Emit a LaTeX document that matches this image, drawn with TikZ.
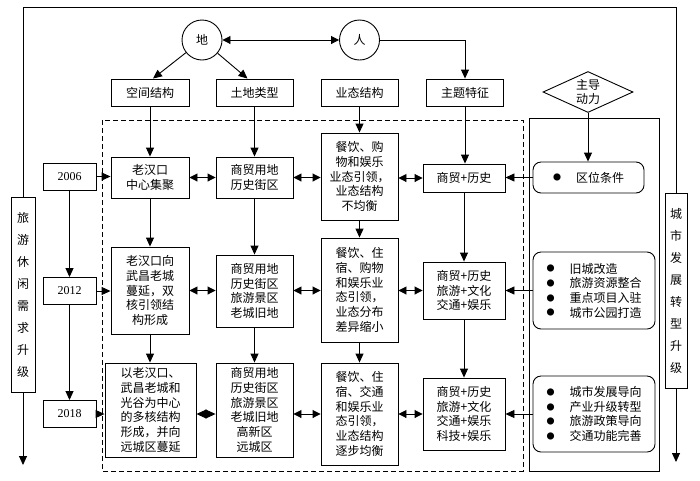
\documentclass[tikz,border=0pt]{standalone}
\usepackage{fontspec}
\setmainfont{Liberation Serif}
\newfontfamily\cjk{Noto Sans CJK SC}
\usetikzlibrary{arrows.meta,shapes.geometric}
\newcommand\bul{\makebox[23pt][l]{\raisebox{1.2pt}{\fontsize{8}{8}\selectfont ●}}}
\begin{document}
\begin{tikzpicture}[x=1pt,y=-1pt,
  every node/.style={font=\cjk\fontsize{12}{14.7}\selectfont, inner sep=0pt, align=center},
  bx/.style={draw, line width=0.9pt},
  rbx/.style={draw, line width=0.9pt, rounded corners=8pt},
  yr/.style={draw, line width=0.9pt, font=\rmfamily\fontsize{12}{14}\selectfont, minimum width=53pt, minimum height=27pt},
  side/.style={draw, line width=0.9pt, font=\cjk\fontsize{12}{22}\selectfont},
  arr/.style={line width=0.9pt, -{Triangle[length=9pt,width=8pt]}},
  dbl/.style={line width=0.9pt, {Triangle[length=8pt,width=8pt]}-{Triangle[length=8pt,width=8pt]}},
  dia/.style={line width=0.9pt, {Triangle[length=10pt,width=9pt]}-{Triangle[length=10pt,width=9pt]}},
]
\useasboundingbox (0,0) rectangle (700,480);

% frames
\draw[line width=0.9pt, dash pattern=on 5pt off 3pt] (102,120) rectangle (523,471);
\draw[line width=1pt] (529,118) rectangle (659,471);

% circles
\node[draw, circle, minimum size=40pt, line width=0.9pt] (di) at (202,40) {地};
\node[draw, circle, minimum size=40pt, line width=0.9pt] (ren) at (359.5,40) {人};

% top boxes
\node[bx, minimum width=78pt, minimum height=27pt] (kj) at (150,92.5) {空间结构};
\node[bx, minimum width=77pt, minimum height=27pt] (td) at (254.5,92.5) {土地类型};
\node[bx, minimum width=77pt, minimum height=27pt] (yt) at (359.5,92.5) {业态结构};
\node[bx, minimum width=77pt, minimum height=27pt] (zt) at (465,92.5) {主题特征};

\node[draw, diamond, line width=0.9pt, aspect=2.2, minimum width=90pt, minimum height=41pt] (zd) at (588,92) {主导\\动力};

% years
\node[yr] (y06) at (69.5,176.5) {2006};
\node[yr] (y12) at (69.5,291) {2012};
\node[yr] (y18) at (69.5,414) {2018};

% row 1
\node[bx, minimum width=78pt, minimum height=41pt] (c1r1) at (150,177.5) {老汉口\\中心集聚};
\node[bx, minimum width=77pt, minimum height=41pt] (c2r1) at (254.5,177.5) {商贸用地\\历史街区};
\node[bx, minimum width=77pt, minimum height=87pt] (c3r1) at (359.5,176.5) {餐饮、购\\物和娱乐\\业态引领，\\业态结构\\不均衡};
\node[bx, minimum width=82pt, minimum height=28pt] (c4r1) at (464,178) {商贸+历史};
\node[rbx, minimum width=111pt, minimum height=31pt, align=left] (c5r1) at (588.5,177.5) {\bul 区位条件};

% row 2
\node[bx, minimum width=78pt, minimum height=87pt] (c1r2) at (150,290.5) {老汉口向\\武昌老城\\蔓延，双\\核引领结\\构形成};
\node[bx, minimum width=77pt, minimum height=72pt] (c2r2) at (254.5,291) {商贸用地\\历史街区\\旅游景区\\老城旧地};
\node[bx, minimum width=77pt, minimum height=104pt] (c3r2) at (359.5,290) {餐饮、住\\宿、购物\\和娱乐业\\态引领，\\业态分布\\差异缩小};
\node[bx, minimum width=82pt, minimum height=57pt] (c4r2) at (464,290.5) {商贸+历史\\旅游+文化\\交通+娱乐};
\node[rbx, minimum width=122pt, minimum height=77pt, align=left] (c5r2) at (594,290.5) {\bul 旧城改造\\\bul 旅游资源整合\\\bul 重点项目入驻\\\bul 城市公园打造};

% row 3
\node[bx, minimum width=91pt, minimum height=94pt] (c1r3) at (150.5,410) {以老汉口、\\武昌老城和\\光谷为中心\\的多核结构\\形成，并向\\远城区蔓延};
\node[bx, minimum width=77pt, minimum height=94pt] (c2r3) at (254.5,410) {商贸用地\\历史街区\\旅游景区\\老城旧地\\高新区\\远城区};
\node[bx, minimum width=77pt, minimum height=102pt] (c3r3) at (359.5,414) {餐饮、住\\宿、交通\\和娱乐业\\态引领，\\业态结构\\逐步均衡};
\node[bx, minimum width=82pt, minimum height=72pt] (c4r3) at (464,414) {商贸+历史\\旅游+文化\\交通+娱乐\\科技+娱乐};
\node[rbx, minimum width=122pt, minimum height=76pt, align=left] (c5r3) at (594,414) {\bul 城市发展导向\\\bul 产业升级转型\\\bul 旅游政策导向\\\bul 交通功能完善};

% side boxes
\node[side, minimum width=24pt, minimum height=195pt] (lb) at (23,294.5) {旅\\游\\休\\闲\\需\\求\\升\\级};
\node[side, minimum width=22pt, minimum height=195pt] (rb) at (676,290.5) {城\\市\\发\\展\\转\\型\\升\\级};
\coordinate (top) at (0,7.5);
\coordinate (lend) at (23,465);
\coordinate (rend) at (676,462);

% outer frame and side arrows
\draw[line width=0.9pt] (lb.north) -- (lb.north |- top) -- (rb.north |- top) -- (rb.north);
\draw[arr] (lb.south) -- (lend);
\draw[arr] (rb.south) -- (rend);

% top connectors
\draw[dbl] (di) -- (ren);
\draw[arr] (di) -- ([xshift=3pt]kj.north);
\draw[arr] (di) -- ([xshift=-7pt]td.north);
\draw[arr] (ren.east) -| (zt.north);
\draw[arr] (kj.south) -- (c1r1.north);
\draw[arr] (td.south) -- (c2r1.north);
\draw[arr] (yt.south) -- (c3r1.north);
\draw[arr] (zt.south) -- (zt.south |- c4r1.north);
\draw[arr] (zd.south) -- (zd.south |- c5r1.north);

% years
\draw[arr] (y06.south) -- (y12.north);
\draw[arr] (y12.south) -- (y18.north);
\draw[arr] (y06.east) -- (c1r1.west |- y06.east);
\draw[arr] (y12.east) -- (c1r2.west |- y12.east);
\draw[arr] (y18.east) -- (c1r3.west |- y18.east);

% vertical between rows
\draw[arr] (c1r1.south) -- (c1r1.south |- c1r2.north);
\draw[arr] (c1r2.south) -- (c1r2.south |- c1r3.north);
\draw[arr] (c2r1.south) -- (c2r2.north);
\draw[arr] (c2r2.south) -- (c2r3.north);
\draw[arr] (c3r1.south) -- (c3r2.north);
\draw[arr] (c3r2.south) -- (c3r3.north);
\draw[arr] (c4r1.south) -- (c4r2.north);
\draw[arr] (c4r2.south) -- (c4r3.north);

% horizontal double arrows
\draw[dbl] (c1r1.east) -- (c2r1.west);
\draw[dbl] (c2r1.east) -- (c3r1.west |- c2r1.east);
\draw[dbl] (c3r1.east |- c4r1.west) -- (c4r1.west);
\draw[dbl] (c1r2.east |- c4r2.west) -- (c2r2.west |- c4r2.west);
\draw[dbl] (c2r2.east |- c4r2.west) -- (c3r2.west |- c4r2.west);
\draw[dbl] (c3r2.east |- c4r2.west) -- (c4r2.west);
\draw[dia] (c1r3.east |- c4r3.west) -- (c2r3.west |- c4r3.west);
\draw[dbl] (c2r3.east |- c4r3.west) -- (c3r3.west |- c4r3.west);
\draw[dbl] (c3r3.east |- c4r3.west) -- (c4r3.west);

% drivers to theme
\draw[arr] (c5r1.west) -- (c4r1.east |- c5r1.west);
\draw[arr] (c5r2.west) -- (c4r2.east |- c5r2.west);
\draw[arr] (c5r3.west) -- (c4r3.east |- c5r3.west);
\end{tikzpicture}
\end{document}
